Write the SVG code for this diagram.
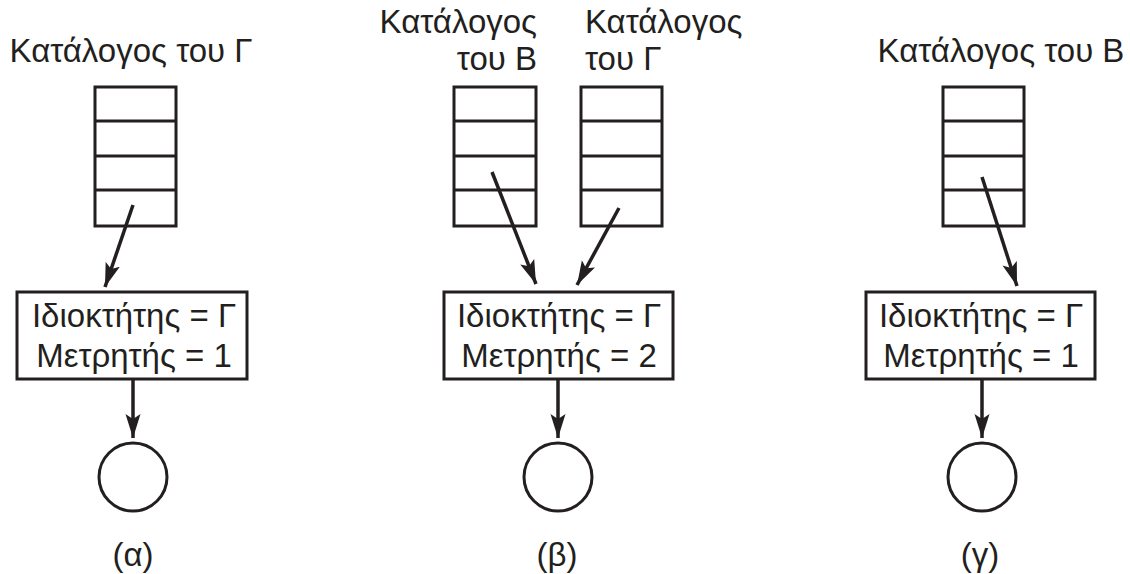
<svg xmlns="http://www.w3.org/2000/svg" width="1130" height="574" viewBox="0 0 1130 574">
<style>
text{font-family:"Liberation Sans",Arial,sans-serif;font-size:33px;fill:#231f20}
.s{fill:none;stroke:#231f20;stroke-width:3}
.b{fill:#fff;stroke:#231f20;stroke-width:3}
.c{stroke:#231f20;stroke-width:3.5;fill:none}
.m{text-anchor:middle}
.e{text-anchor:end}
</style>
<defs>
<marker id="ah" markerUnits="userSpaceOnUse" markerWidth="26" markerHeight="16" refX="24" refY="7.5" orient="auto" viewBox="0 0 26 15">
<path d="M0,0 L24,7.5 L0,15 L5,7.5 Z" fill="#231f20"/>
</marker>
</defs>
<rect width="1130" height="574" fill="#fff"/>

<g id="panel-a">
<text class="m" x="131" y="62">Κατάλογος του Γ</text>
<g id="table-a">
<rect class="b" x="95" y="87" width="81" height="139"/>
<path class="s" d="M95,121H176M95,156H176M95,190H176"/>
</g>
<g id="box-a">
<rect class="b" x="17" y="292" width="230" height="87"/>
<text class="m" x="134" y="327">Ιδιοκτήτης = Γ</text>
<text class="m" x="134" y="367">Μετρητής = 1</text>
</g>
<g id="file-a"><circle class="b" cx="133" cy="477" r="34"/></g>
<text class="m" x="133" y="566">(α)</text>
</g>

<g id="panel-b">
<text class="e" x="537" y="33">Κατάλογος</text>
<text class="e" x="537" y="70">του Β</text>
<text x="585" y="33">Κατάλογος</text>
<text x="585" y="70">του Γ</text>
<g id="table-b1">
<rect class="b" x="454" y="87" width="82" height="139"/>
<path class="s" d="M454,121H536M454,156H536M454,190H536"/>
</g>
<g id="table-b2">
<rect class="b" x="581" y="87" width="81" height="139"/>
<path class="s" d="M581,121H662M581,156H662M581,190H662"/>
</g>
<g id="box-b">
<rect class="b" x="444" y="292" width="229" height="87"/>
<text class="m" x="559" y="327">Ιδιοκτήτης = Γ</text>
<text class="m" x="559" y="367">Μετρητής = 2</text>
</g>
<g id="file-b"><circle class="b" cx="558" cy="477" r="34"/></g>
<text class="m" x="557" y="566">(β)</text>
</g>

<g id="panel-c">
<text class="m" x="1001" y="62">Κατάλογος του Β</text>
<g id="table-c">
<rect class="b" x="943" y="87" width="81" height="139"/>
<path class="s" d="M943,121H1024M943,156H1024M943,190H1024"/>
</g>
<g id="box-c">
<rect class="b" x="866" y="292" width="229" height="87"/>
<text class="m" x="981" y="327">Ιδιοκτήτης = Γ</text>
<text class="m" x="981" y="367">Μετρητής = 1</text>
</g>
<g id="file-c"><circle class="b" cx="982" cy="477" r="34"/></g>
<text class="m" x="980" y="566">(γ)</text>
</g>

<g id="connectors">
<line class="c" x1="133" y1="205" x2="105" y2="287" marker-end="url(#ah)"/>
<line class="c" x1="492" y1="172" x2="536" y2="284" marker-end="url(#ah)"/>
<line class="c" x1="619" y1="208" x2="577" y2="285" marker-end="url(#ah)"/>
<line class="c" x1="982" y1="177" x2="1017" y2="286" marker-end="url(#ah)"/>
<line class="c" x1="133" y1="379" x2="133" y2="438" marker-end="url(#ah)"/>
<line class="c" x1="558" y1="379" x2="558" y2="438" marker-end="url(#ah)"/>
<line class="c" x1="982" y1="379" x2="982" y2="438" marker-end="url(#ah)"/>
</g>
</svg>
